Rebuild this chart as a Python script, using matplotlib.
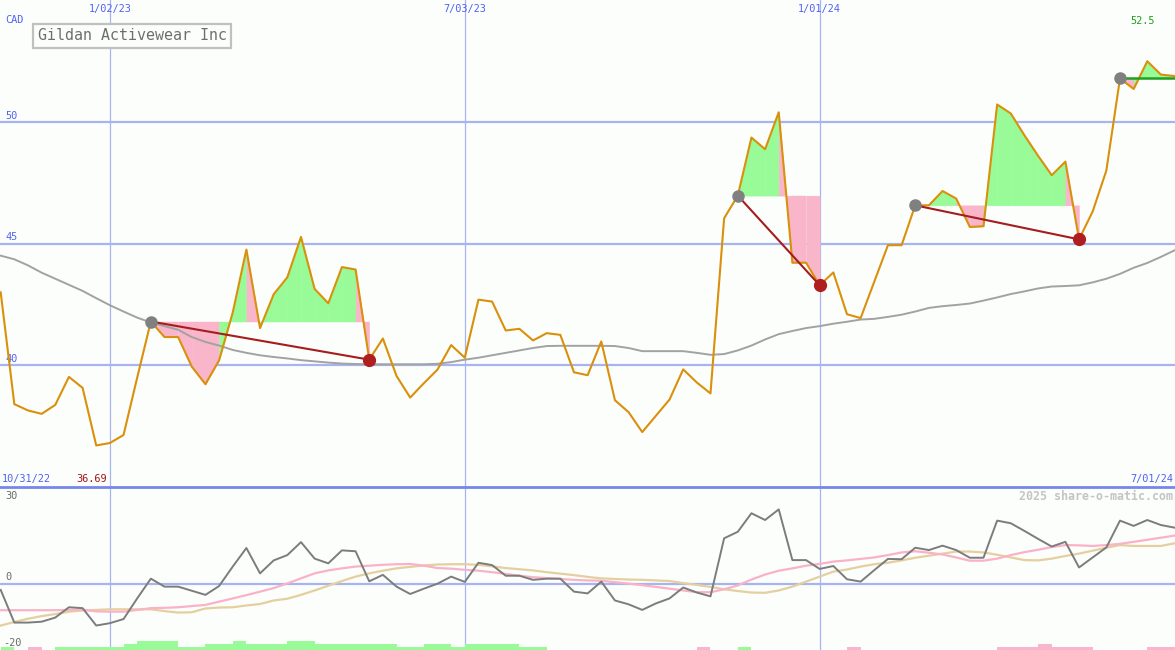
"""Gildan Activewear weekly chart, share-o-matic style."""

import matplotlib

matplotlib.use("Agg")
import matplotlib.pyplot as plt
import matplotlib.transforms as mtransforms
from matplotlib.lines import Line2D
import numpy as np

# weekly closes, one per week from the left edge
price = [
    42.99, 38.39, 38.13, 37.99, 38.36, 39.51, 39.06, 36.69, 36.79, 37.12,
    39.48, 41.79, 41.15, 41.15, 39.93, 39.21, 40.19, 42.16, 44.75, 41.52,
    42.91, 43.61, 45.27, 43.13, 42.54, 44.03, 43.93, 40.22, 41.09, 39.55,
    38.66, 39.25, 39.81, 40.82, 40.30, 42.69, 42.61, 41.42, 41.49, 41.01,
    41.31, 41.24, 39.70, 39.58, 40.97, 38.55, 38.06, 37.24, 37.91, 38.58,
    39.82, 39.28, 38.83, 46.04, 46.97, 49.36, 48.88, 50.40, 44.21, 44.21,
    43.28, 43.81, 42.09, 41.93, 43.43, 44.93, 44.93, 46.57, 46.57, 47.16,
    46.85, 45.68, 45.71, 50.72, 50.35, 49.45, 48.61, 47.81, 48.37, 45.17,
    46.32, 48.00, 51.79, 51.36, 52.50, 51.95, 51.89,
]
ma_long = [
    44.50, 44.35, 44.10, 43.80, 43.55, 43.30, 43.05, 42.75, 42.46, 42.20,
    41.95, 41.75, 41.60, 41.45, 41.15, 40.95, 40.80, 40.62, 40.50, 40.40,
    40.33, 40.27, 40.20, 40.15, 40.10, 40.06, 40.04, 40.03, 40.03, 40.03,
    40.03, 40.03, 40.05, 40.12, 40.22, 40.30, 40.40, 40.50, 40.60, 40.70,
    40.78, 40.79, 40.79, 40.79, 40.79, 40.78, 40.70, 40.57, 40.57, 40.57,
    40.57, 40.50, 40.42, 40.45, 40.60, 40.80, 41.05, 41.27, 41.40, 41.52,
    41.60, 41.70, 41.78, 41.87, 41.90, 41.98, 42.07, 42.20, 42.35, 42.42,
    42.47, 42.53, 42.65, 42.78, 42.92, 43.03, 43.15, 43.23, 43.25, 43.28,
    43.40, 43.55, 43.75, 44.00, 44.20, 44.45, 44.72,
]
osc = [
    -2.0, -13.1, -13.1, -12.8, -11.4, -7.9, -8.2, -14.1, -13.3, -11.9,
    -4.9, 1.8, -0.9, -0.9, -2.3, -3.7, -0.7, 5.9, 12.2, 3.6,
    8.0, 9.8, 14.2, 8.6, 7.0, 11.4, 11.1, 0.9, 3.1, -0.9,
    -3.4, -1.6, 0.1, 2.5, 0.7, 7.2, 6.4, 2.8, 2.8, 1.4,
    1.8, 1.8, -2.6, -3.2, 0.8, -5.6, -6.9, -8.8, -6.6, -4.9,
    -1.2, -2.9, -4.2, 15.5, 17.7, 24.0, 21.7, 25.3, 8.1, 8.1,
    5.1, 6.1, 1.6, 0.8, 4.7, 8.5, 8.4, 12.3, 11.5, 13.0,
    11.5, 8.9, 8.9, 21.5, 20.6, 18.0, 15.3, 12.7, 14.3, 5.6,
    9.0, 12.4, 21.5, 19.7, 21.7, 20.0, 19.1,
]
osc_pink = [
    -8.9, -8.9, -8.9, -8.9, -8.9, -8.8, -8.7, -9.3, -9.4, -9.4,
    -8.8, -8.2, -8.1, -7.9, -7.5, -7.1, -6.0, -4.9, -3.8, -2.6,
    -1.4, 0.2, 1.9, 3.6, 4.6, 5.3, 5.9, 6.2, 6.5, 6.7,
    6.8, 6.2, 5.4, 5.2, 4.8, 4.5, 4.0, 3.4, 2.8, 2.3,
    2.0, 1.7, 1.4, 1.2, 1.1, 0.6, 0.1, -0.4, -1.0, -1.6,
    -2.2, -2.8, -2.8, -1.8, -0.5, 1.5, 3.2, 4.5, 5.3, 6.2,
    6.8, 7.6, 8.0, 8.5, 9.0, 9.8, 10.7, 11.1, 10.6, 10.0,
    9.0, 7.9, 7.9, 8.6, 9.8, 10.8, 11.6, 12.5, 13.2, 13.1,
    12.9, 13.2, 13.6, 14.3, 15.0, 15.7, 16.4,
]
osc_tan = [
    -14.1, -12.9, -11.8, -10.9, -10.2, -9.4, -9.0, -8.8, -8.6, -8.6,
    -8.6, -8.6, -9.2, -9.7, -9.6, -8.3, -8.0, -7.9, -7.3, -6.8,
    -5.6, -5.0, -3.7, -2.2, -0.6, 1.0, 2.5, 3.6, 4.5, 5.3,
    5.8, 6.3, 6.6, 6.7, 6.7, 6.5, 6.0, 5.4, 5.0, 4.6,
    4.0, 3.5, 3.0, 2.4, 1.9, 1.7, 1.5, 1.4, 1.2, 1.0,
    0.3, -0.3, -1.0, -1.8, -2.4, -2.9, -3.0, -2.2, -0.9, 0.8,
    2.5, 4.2, 4.9, 5.9, 6.7, 7.2, 8.0, 8.9, 9.6, 10.3,
    11.0, 11.0, 10.7, 9.9, 9.0, 8.1, 8.0, 8.6, 9.5, 10.3,
    11.3, 12.3, 13.2, 12.9, 12.9, 12.9, 13.8,
]
# signed weekly histogram at the foot of the lower panel
bars = [
    1.1, 0, -1.1, 0, 1.1, 1.1, 1.1, 1.1, 1.1, 2.2,
    3.2, 3.2, 3.2, 1.1, 1.1, 2.2, 2.2, 3.2, 2.2, 2.2,
    2.2, 3.2, 3.2, 2.2, 2.2, 2.2, 2.2, 2.2, 2.2, 1.1,
    1.1, 2.2, 2.2, 1.1, 2.2, 2.2, 2.2, 2.2, 1.1, 1.1,
    0, 0, 0, 0, 0, 0, 0, 0, 0, 0,
    0, -1.1, 0, 0, 1.1, 0, 0, 0, 0, 0,
    0, 0, -1.1, 0, 0, 0, 0, 0, 0, 0,
    0, 0, 0, -1.1, -1.1, -1.1, -2.2, -1.1, -1.1, -1.1,
    0, 0, 0, 0, -1.1, -1.1, 0,
]

episodes = [(11, 27), (54, 60), (67, 79)]
open_start = 82

date_ticks = [8, 34, 60]
date_labels = ["1/02/23", "7/03/23", "1/01/24"]
price_ticks = [40, 45, 50]
osc_labels = [(30, "30"), (0, "0"), (-20, "-20")]

BG = "#fcfefc"
GRID = "#a8b4f0"
LABEL_BLUE = "#4f63f2"
ORANGE = "#d9900b"
FILL_GREEN = "#98fb98"
FILL_PINK = "#f9b5c9"
DARK_RED = "#a51d1d"
MONO = "DejaVu Sans Mono"

price = np.array(price)
x = np.arange(len(price))

fig = plt.figure(figsize=(11.75, 6.5), dpi=100, facecolor=BG)
split = 163 / 650
ax = fig.add_axes([0, split, 1, 1 - split])
ax2 = fig.add_axes([0, 0, 1, split], sharex=ax)
for a in (ax, ax2):
    a.set_facecolor(BG)
    for s in a.spines.values():
        s.set_visible(False)
ax.set_xlim(-0.05, 86.03)
ax.set_ylim(34.98, 55.02)
ax2.set_ylim(-22.4, 32.9)
ax.set_xticks([])
ax.set_yticks([])
ax2.set_yticks([])

# grid
for t in date_ticks:
    ax.axvline(t, color=GRID, lw=0.9, zorder=1)
    ax2.axvline(t, color=GRID, lw=0.9, zorder=1)
for v in price_ticks:
    ax.axhline(v, color=GRID, lw=1.6, zorder=1)
ax2.axhline(0, color=GRID, lw=1.6, zorder=1)
fig.add_artist(Line2D([0, 1], [split, split], color="#7686ea", lw=2.0))

# shaded swings relative to the starting high
for s, e in episodes + [(open_start, len(price) - 1)]:
    level = price[s]
    for i in range(s, e):
        col = FILL_GREEN if price[i + 1] >= level else FILL_PINK
        ax.fill_between(x[i:i + 2], price[i:i + 2], level, facecolor=col,
                        edgecolor=col, lw=0.3, zorder=2)

ax.plot(x, ma_long, color="#a2a2a2", lw=1.4, zorder=3)
ax.plot(x, price, color=ORANGE, lw=1.5, zorder=4)

for s, e in episodes:
    ax.plot([x[s], x[e]], [price[s], price[e]], color=DARK_RED, lw=1.5, zorder=5)
ax.plot([x[open_start], x[-1] + 0.05], [price[open_start]] * 2, color="#22a022",
        lw=1.8, zorder=5)

starts = [s for s, _ in episodes] + [open_start]
ends = [e for _, e in episodes]
ax.plot(x[starts], price[starts], "o", color="#808080", ms=8, zorder=6)
ax.plot(x[ends], price[ends], "o", color="#b01f1f", ms=8.5, zorder=6)

# lower panel
bar_cols = [FILL_GREEN if b > 0 else FILL_PINK for b in bars]
ax2.bar(x, np.abs(bars), width=1.0, align="edge", bottom=-22.4, color=bar_cols,
        lw=0, zorder=2)
ax2.plot(x, osc_tan, color="#e4cf9f", lw=1.6, zorder=3)
ax2.plot(x, osc_pink, color="#f9b2c8", lw=1.6, zorder=3)
ax2.plot(x, osc, color="#7c7c7c", lw=1.4, zorder=4)

# labels
top = mtransforms.blended_transform_factory(ax.transData, ax.transAxes)
left = mtransforms.blended_transform_factory(ax.transAxes, ax.transData)
left2 = mtransforms.blended_transform_factory(ax2.transAxes, ax2.transData)
for t, lbl in zip(date_ticks, date_labels):
    ax.text(t, 1 - 9 / 487, lbl, transform=top, ha="center", va="center",
            fontsize=7.4, family=MONO, color=LABEL_BLUE)
for v in price_ticks:
    ax.annotate(str(v), xy=(0, v), xycoords=left, xytext=(5, 1),
                textcoords="offset pixels", ha="left", va="bottom",
                fontsize=7.4, family=MONO, color=LABEL_BLUE)
for v, lbl in osc_labels:
    ax2.annotate(lbl, xy=(0, v), xycoords=left2,
                 xytext=(3 if v < 0 else 5, 2 if v == 0 else 0),
                 textcoords="offset pixels", ha="left",
                 va="bottom" if v == 0 else "center",
                 fontsize=7.4, family=MONO, color="#6a6a6a")

ax.text(5 / 1175, 1 - 20 / 487, "CAD", transform=ax.transAxes, ha="left",
        va="center", fontsize=7.4, family=MONO, color=LABEL_BLUE)
ax.text(37.5 / 1175, 1 - 36 / 487, "Gildan Activewear Inc", transform=ax.transAxes,
        ha="left", va="center", fontsize=10.8, family=MONO, color="#6e6e6e",
        bbox=dict(boxstyle="square,pad=0.3", facecolor=BG, edgecolor="#c0c0c0", lw=1.6))
ax.text(1155 / 1175, 1 - 21 / 487, f"{price.max():.1f}", transform=ax.transAxes,
        ha="right", va="center", fontsize=7.4, family=MONO, color="#1f9e1f")
ax.text(2 / 1175, 1 - 479 / 487, "10/31/22", transform=ax.transAxes, ha="left",
        va="center", fontsize=7.4, family=MONO, color=LABEL_BLUE)
ax.text(76 / 1175, 1 - 479 / 487, f"{price.min():.2f}", transform=ax.transAxes,
        ha="left", va="center", fontsize=7.4, family=MONO, color="#a01818")
ax.text(1173 / 1175, 1 - 479 / 487, "7/01/24", transform=ax.transAxes, ha="right",
        va="center", fontsize=7.4, family=MONO, color=LABEL_BLUE)
ax2.text(1173 / 1175, 1 - 9.5 / 163, "2025 share-o-matic.com", transform=ax2.transAxes,
         ha="right", va="center", fontsize=8.4, family=MONO, fontweight="bold",
         color="#c4c4c4")

fig.savefig("out.png", dpi=100, facecolor=BG)
